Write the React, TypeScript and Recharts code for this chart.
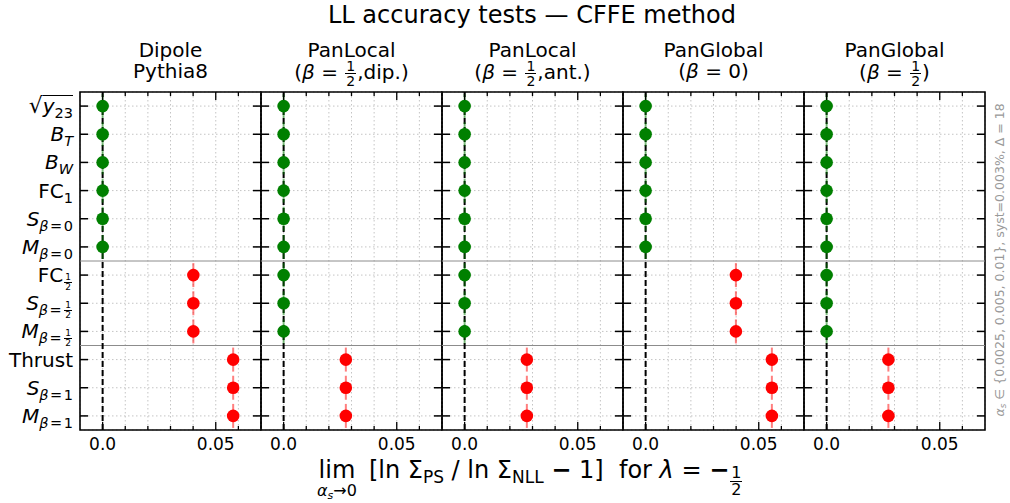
import React from 'react';
import { ScatterChart, Scatter, XAxis, YAxis, CartesianGrid, ReferenceLine, ReferenceArea } from 'recharts';

// ---------- data ----------
const rowLabels = ['√y_23', 'B_T', 'B_W', 'FC_1', 'S_β=0', 'M_β=0', 'FC_½', 'S_β=½', 'M_β=½', 'Thrust', 'S_β=1', 'M_β=1'];
const rowIndex = rowLabels.map((_, i) => i);
const xTicks = [0, 0.01, 0.02, 0.03, 0.04, 0.05, 0.06];
const xMajorTicks = [0, 0.05];
const xTickLabels = ['0.0', '0.05'];
const xDomain = [-0.01, 0.07];

const panelTitles = [
  ['Dipole', 'Pythia8'],
  ['PanLocal', '(β = ½,dip.)'],
  ['PanLocal', '(β = ½,ant.)'],
  ['PanGlobal', '(β = 0)'],
  ['PanGlobal', '(β = ½)'],
];

const dipolePythia8 = [0, 0, 0, 0, 0, 0, 0.0401, 0.0401, 0.0401, 0.0577, 0.0577, 0.0577];
const panLocalDip = [0, 0, 0, 0, 0, 0, 0, 0, 0, 0.0275, 0.0275, 0.0275];
const panLocalAnt = [0, 0, 0, 0, 0, 0, 0, 0, 0, 0.0275, 0.0275, 0.0275];
const panGlobal0 = [0, 0, 0, 0, 0, 0, 0.0399, 0.0399, 0.0399, 0.0558, 0.0558, 0.0558];
const panGlobalHalf = [0, 0, 0, 0, 0, 0, 0, 0, 0, 0.0273, 0.0273, 0.0273];
const panelValues = [dipolePythia8, panLocalDip, panLocalAnt, panGlobal0, panGlobalHalf];

const groupSeparators = [5.5, 8.5];
const passTolerance = 0.005;

// ---------- layout / style ----------
const FONT = "'DejaVu Sans', 'Liberation Sans', sans-serif";
const PLOT_LEFT = 80;
const PW = 181;
const PLOT_TOP = 92;
const PLOT_BOTTOM = 430;
const PH = PLOT_BOTTOM - PLOT_TOP;
const GREEN = '#008000';
const RED = '#ff0000';

function Frac({ size, shift, bar = true }: { size: number; shift: number; bar?: boolean }) {
  return (
    <span
      style={{
        display: 'inline-flex',
        flexDirection: 'column',
        alignItems: 'center',
        fontSize: size,
        lineHeight: 1,
        verticalAlign: shift,
        margin: '0 1px',
      }}
    >
      <span style={{ borderBottom: bar ? '1px solid currentColor' : 'none', padding: '0 1px' }}>1</span>
      <span>2</span>
    </span>
  );
}

function renderMath(s: string, fracSize: number, fracShift: number, italicLatin = false, eqPad = 0) {
  const out: React.ReactNode[] = [];
  let buf = '';
  const flush = (k: string) => {
    if (buf) out.push(<span key={k}>{buf}</span>);
    buf = '';
  };
  Array.from(s).forEach((ch, i) => {
    if (ch === 'β' || ch === 'λ' || ch === 'α' || (italicLatin && /[A-Za-z]/.test(ch))) {
      flush('b' + i);
      out.push(<i key={i}>{ch}</i>);
    } else if (ch === '½') {
      flush('b' + i);
      out.push(<Frac key={i} size={fracSize} shift={fracShift} />);
    } else if (ch === '=' && eqPad > 0) {
      flush('b' + i);
      out.push(
        <span key={i} style={{ margin: `0 ${eqPad}px` }}>
          =
        </span>
      );
    } else buf += ch;
  });
  flush('end');
  return out;
}

const subStyle: React.CSSProperties = { fontSize: 14.5, verticalAlign: -5, lineHeight: 1 };

function RowLabel({ spec }: { spec: string }) {
  if (spec.startsWith('√')) {
    const [b, s] = spec.slice(1).split('_');
    return (
      <span style={{ whiteSpace: 'nowrap' }}>
        <span style={{ fontSize: 22 }}>√</span>
        <span style={{ borderTop: '1.6px solid #000', display: 'inline-block', lineHeight: '21px' }}>
          <i>{b}</i>
          <span style={subStyle}>{s}</span>
        </span>
      </span>
    );
  }
  const [base, sub] = spec.split('_');
  return (
    <span style={{ whiteSpace: 'nowrap' }}>
      {base.length === 1 ? <i>{base}</i> : base}
      {sub && <span style={subStyle}>{renderMath(sub, 9, 7, true, 1.5)}</span>}
    </span>
  );
}

function makeYTick(showLabels: boolean) {
  return (props: any) => {
    const { x, y, payload } = props;
    const label = rowLabels[payload.value];
    return (
      <g>
        <line x1={x} x2={x + 8} y1={y} y2={y} stroke="#000" strokeWidth={1.5} />
        <line x1={x + PW - 8} x2={x + PW} y1={y} y2={y} stroke="#000" strokeWidth={1.5} />
        {showLabels && (
          <foreignObject x={x - 80} y={y - 16} width={74} height={46} style={{ overflow: 'visible' }}>
            <div
              style={{
                width: 73,
                height: 32,
                lineHeight: '32px',
                textAlign: 'right',
                fontFamily: FONT,
                fontSize: 20,
                color: '#000',
                whiteSpace: 'nowrap',
                overflow: 'visible',
              }}
            >
              <RowLabel spec={label} />
            </div>
          </foreignObject>
        )}
      </g>
    );
  };
}

function XTick(props: any) {
  const { x, y, payload } = props;
  const mi = xMajorTicks.indexOf(payload.value);
  const len = mi >= 0 ? 8 : 4;
  return (
    <g>
      <line x1={x} x2={x} y1={y} y2={y - len} stroke="#000" strokeWidth={1.3} />
      <line x1={x} x2={x} y1={y - PH} y2={y - PH + len} stroke="#000" strokeWidth={1.3} />
      {mi >= 0 && (
        <text x={x} y={y + 20} textAnchor="middle" fontFamily={FONT} fontSize={17} fill="#000">
          {xTickLabels[mi]}
        </text>
      )}
    </g>
  );
}

function PointShape(props: any) {
  const { cx, cy, fill } = props;
  if (cx == null || cy == null) return null;
  return (
    <g>
      <line x1={cx} x2={cx} y1={cy - 12} y2={cy + 12} stroke={fill} strokeOpacity={0.5} strokeWidth={2} />
      <circle cx={cx} cy={cy} r={6.3} fill={fill} />
    </g>
  );
}

function Panel({ idx }: { idx: number }) {
  const values = panelValues[idx];
  const data = values.map((v, i) => ({ x: v, y: i }));
  const pass = data.filter((d) => Math.abs(d.x) < passTolerance);
  const fail = data.filter((d) => Math.abs(d.x) >= passTolerance);
  const padL = idx === 0 ? PLOT_LEFT : 10;
  const padR = 10;
  const left = PLOT_LEFT + idx * PW - padL;
  return (
    <div style={{ position: 'absolute', left, top: 0 }}>
      <ScatterChart
        width={PW + padL + padR}
        height={503}
        margin={{ top: PLOT_TOP, bottom: 503 - PLOT_BOTTOM - 1, left: padL - 1, right: padR }}
      >
        <CartesianGrid stroke="#c4c4c4" strokeDasharray="1.5 2.5" strokeWidth={1} />
        <XAxis
          type="number"
          dataKey="x"
          domain={xDomain}
          ticks={xTicks}
          interval={0}
          allowDataOverflow
          height={1}
          tickSize={0}
          tickMargin={0}
          axisLine={false}
          tickLine={false}
          tick={XTick}
        />
        <YAxis
          type="number"
          dataKey="y"
          domain={[-0.5, 11.5]}
          reversed
          ticks={rowIndex}
          interval={0}
          allowDataOverflow
          width={1}
          tickSize={0}
          tickMargin={0}
          axisLine={false}
          tickLine={false}
          tick={makeYTick(idx === 0)}
        />
        {groupSeparators.map((s) => (
          <ReferenceLine key={s} y={s} stroke="#8c8c8c" strokeWidth={1} />
        ))}
        <ReferenceLine x={0} stroke="#000" strokeWidth={2} strokeDasharray="6 3" />
        <Scatter data={pass} fill={GREEN} shape={PointShape} isAnimationActive={false} />
        <Scatter data={fail} fill={RED} shape={PointShape} isAnimationActive={false} />
        <ReferenceArea
          x1={xDomain[0]}
          x2={xDomain[1]}
          y1={-0.5}
          y2={11.5}
          fill="none"
          fillOpacity={0}
          stroke="#000"
          strokeWidth={1.6}
          ifOverflow="visible"
        />
      </ScatterChart>
    </div>
  );
}

export default function App() {
  return (
    <div
      style={{
        position: 'absolute',
        left: 0,
        top: 0,
        width: 1010,
        height: 503,
        background: '#fff',
        fontFamily: FONT,
        color: '#000',
        overflow: 'hidden',
      }}
    >
      {panelValues.map((_, i) => (
        <Panel key={i} idx={i} />
      ))}

      {/* main title */}
      <div style={{ position: 'absolute', left: 0, width: 1064, top: 1, textAlign: 'center', fontSize: 24, lineHeight: '28px' }}>
        LL accuracy tests — CFFE method
      </div>

      {/* panel titles */}
      {panelTitles.map((t, i) => (
        <React.Fragment key={i}>
          <div
            style={{
              position: 'absolute',
              left: PLOT_LEFT + i * PW,
              width: PW,
              top: 38,
              textAlign: 'center',
              fontSize: 20,
              lineHeight: '24px',
              whiteSpace: 'nowrap',
            }}
          >
            {t[0]}
          </div>
          <div
            style={{
              position: 'absolute',
              left: PLOT_LEFT + i * PW,
              width: PW,
              top: 59,
              textAlign: 'center',
              fontSize: 20,
              lineHeight: '24px',
              whiteSpace: 'nowrap',
            }}
          >
            {renderMath(t[1], 14, 8)}
          </div>
        </React.Fragment>
      ))}

      {/* x label */}
      <div style={{ position: 'absolute', left: 317, top: 456, fontSize: 24, lineHeight: '28px', whiteSpace: 'nowrap' }}>
        <span style={{ display: 'inline-flex', flexDirection: 'column', alignItems: 'center', lineHeight: 1, verticalAlign: 'baseline' }}>
          <span>lim</span>
          <span style={{ fontSize: 16, marginTop: 1 }}>
            <i>α</i>
            <span style={{ fontSize: 11, verticalAlign: -3 }}>
              <i>s</i>
            </span>
            →0
          </span>
        </span>
        <span style={{ marginLeft: 12 }}>[ln Σ</span>
        <span style={{ fontSize: 17, verticalAlign: -5 }}>PS</span>
        <span> / ln Σ</span>
        <span style={{ fontSize: 17, verticalAlign: -5 }}>NLL</span>
        <span> </span>
        <span style={{ fontWeight: 'bold' }}>−</span>
        <span> 1]&nbsp;&nbsp;for </span>
        <i>λ</i>
        <span> = </span>
        <span style={{ fontWeight: 'bold' }}>−</span>
        <Frac size={16} shift={0} />
      </div>

      {/* right side note */}
      <div
        style={{
          position: 'absolute',
          left: 1000 - 200,
          top: 260 - 10,
          width: 400,
          height: 20,
          transform: 'rotate(-90deg)',
          transformOrigin: '200px 10px',
          textAlign: 'center',
          fontSize: 12.5,
          lineHeight: '20px',
          color: '#999',
          whiteSpace: 'nowrap',
        }}
      >
        <i>α</i>
        <span style={{ fontSize: 9, verticalAlign: -2 }}>
          <i>s</i>
        </span>
        {' ∈ {0.0025, 0.005, 0.01}, syst=0.003%, Δ = 18'}
      </div>
    </div>
  );
}
